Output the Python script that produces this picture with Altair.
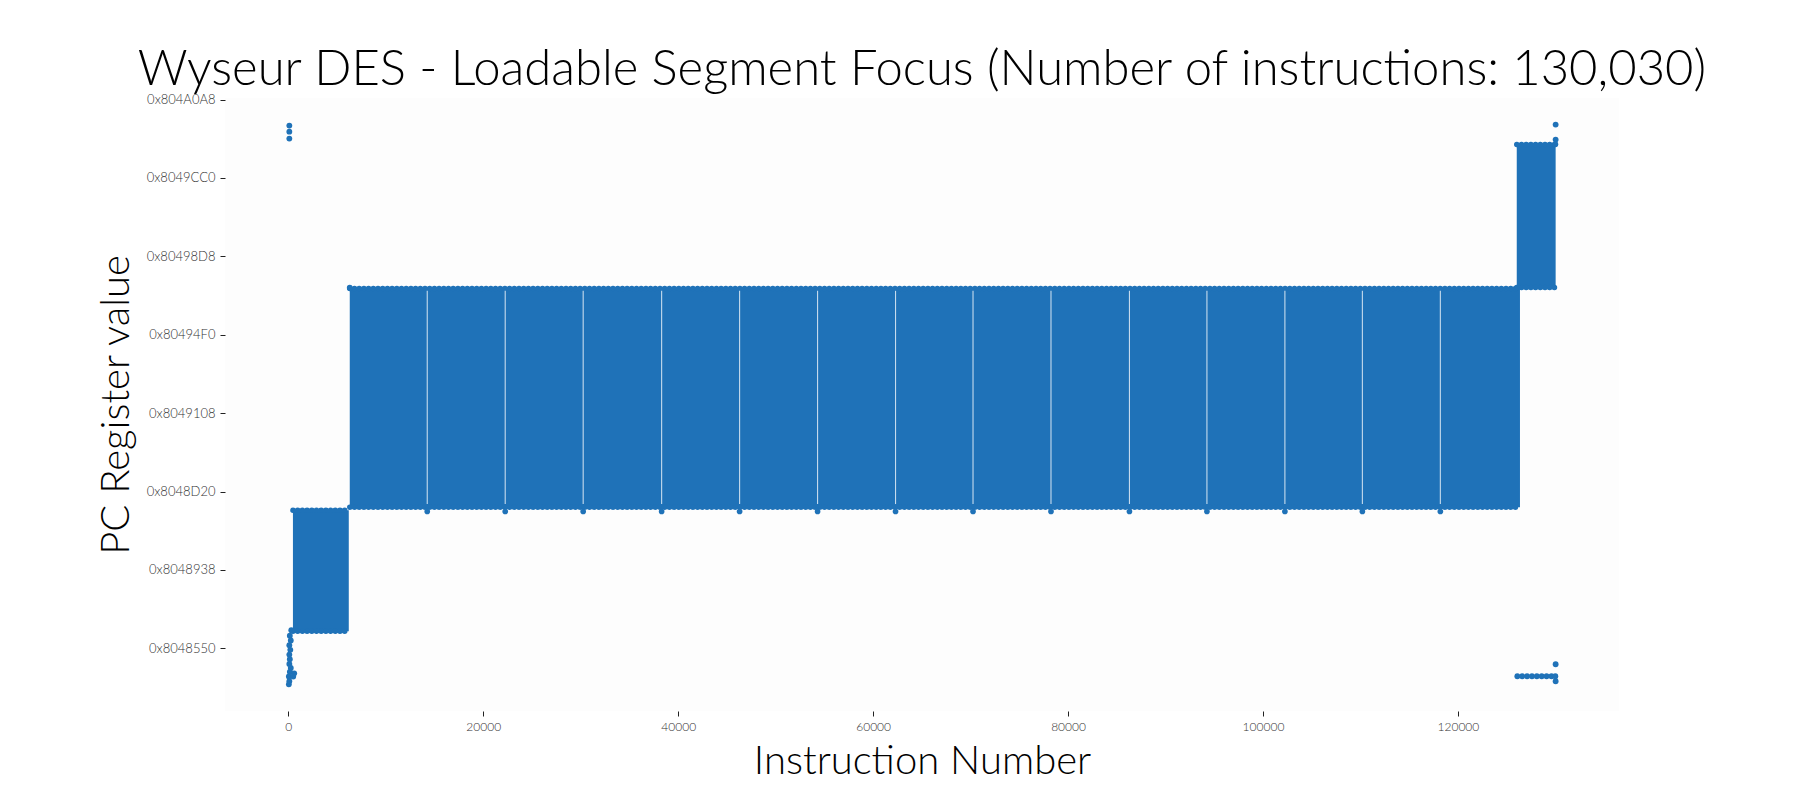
import altair as alt
import pandas as pd

title_text = "Wyseur DES - Loadable Segment Focus (Number of instructions: 130,030)"
x_title = "Instruction Number"
y_title = "PC Register value"

# dense execution blocks (instruction range x PC range)
block_start = [470, 6300, 126040]
block_end = [6200, 126370, 130030]
block_low = [134514217, 134515798, 134518603]
block_high = [134515760, 134518590, 134520426]

# loop-boundary gaps inside the main block
gap_x = [14250, 22250, 30250, 38300, 46300, 54300, 62300, 70250, 78250,
         86300, 94250, 102250, 110200, 118200]
gap_low = [134515840] * len(gap_x)
gap_high = [134518560] * len(gap_x)
gap_dip = [134515745] * len(gap_x)

# isolated points
pt_x = [100, 100, 100,
        300, 150, 250, 100, 200, 100, 150, 100, 250, 150, 50, 600, 500, 100, 50,
        6300,
        130030, 130030, 130000,
        126100, 126600, 127100, 127600, 128100, 128600, 129100, 129600, 130000,
        130030, 130030]
pt_y = [134520668, 134520591, 134520502,
        134514230, 134514160, 134514100, 134514040, 134513980, 134513920,
        134513860, 134513800, 134513750, 134513700, 134513640, 134513680,
        134513640, 134513580, 134513540,
        134518600,
        134520681, 134520490, 134520430,
        134513643, 134513643, 134513643, 134513643, 134513643, 134513643,
        134513643, 134513643, 134513643,
        134513796, 134513580]

x_ticks = [0, 20000, 40000, 60000, 80000, 100000, 120000]
y_ticks = [134514000, 134515000, 134516000, 134517000, 134518000,
           134519000, 134520000, 134521000]

blocks = pd.DataFrame({"x": block_start, "x2": block_end,
                       "y": block_low, "y2": block_high})
gaps = pd.DataFrame({"x": gap_x, "y": gap_low, "y2": gap_high, "dip": gap_dip})
points = pd.DataFrame({"x": pt_x, "y": pt_y})

BLUE = "#1f72b8"
FONT = "Lato"

xscale = alt.Scale(domain=[-6501, 136531], nice=False, zero=False)
yscale = alt.Scale(domain=[134513200, 134521020], nice=False, zero=False)

xaxis = alt.Axis(values=x_ticks, title=x_title, format="d", labelFont=FONT,
                 labelFontWeight=300, labelFontSize=12, labelColor="#333333", labelPadding=5,
                 tickColor="#222222", tickSize=5, tickWidth=1, domain=False, grid=False,
                 titleFont=FONT, titleFontWeight=300, titleFontSize=40,
                 titleColor="#000000", titleBaseline="alphabetic", titleY=62)
yaxis = alt.Axis(values=y_ticks, title=y_title, labelFont=FONT, labelFontWeight=300,
                 labelFontSize=13, labelColor="#333333", labelPadding=5,
                 labelExpr="'0x' + format(datum.value, 'X')",
                 tickColor="#222222", tickSize=5, tickWidth=1, domain=False, grid=False,
                 titleFont=FONT, titleFontWeight=300, titleFontSize=40,
                 titleColor="#000000", titleBaseline="alphabetic",
                 titleX=-97, titleY=306.5, titleAngle=270)

X = lambda f: alt.X(f, scale=xscale, axis=xaxis)
Y = lambda f: alt.Y(f, scale=yscale, axis=yaxis)

rects = alt.Chart(blocks).mark_rect(color=BLUE).encode(
    x=X("x:Q"), x2="x2:Q", y=Y("y:Q"), y2="y2:Q",
)

edge_style = dict(color=BLUE, strokeWidth=5.5, strokeCap="round", strokeDash=[0.1, 4.6])
top_edges = alt.Chart(blocks).mark_rule(**edge_style).encode(
    x=X("x:Q"), x2="x2:Q", y=Y("y2:Q"),
)
bottom_edges = alt.Chart(blocks).mark_rule(**edge_style).encode(
    x=X("x:Q"), x2="x2:Q", y=Y("y:Q"),
)

gap_rules = alt.Chart(gaps).mark_rule(color="#ffffff", strokeWidth=1.1, opacity=0.75).encode(
    x=X("x:Q"), y=Y("y:Q"), y2="y2:Q",
)
gap_dips = alt.Chart(gaps).mark_circle(color=BLUE, size=32, opacity=1).encode(
    x=X("x:Q"), y=Y("dip:Q"),
)

dots = alt.Chart(points).mark_circle(color=BLUE, size=34, opacity=1).encode(
    x=X("x:Q"), y=Y("y:Q"),
)

chart = alt.layer(rects, top_edges, bottom_edges, gap_rules, gap_dips, dots).properties(
    width=1394,
    height=613,
    padding={"left": 217, "top": 90, "right": 170, "bottom": 81},
    autosize=alt.AutoSizeParams(type="none"),
    title=alt.TitleParams(text=title_text, font=FONT, fontWeight=300, fontSize=49,
                          color="#000000", anchor="middle", frame="group",
                          baseline="alphabetic", offset=-40),
).configure(
    background="#ffffff",
    view=alt.ViewConfig(fill="#fdfdfd", stroke="transparent", strokeWidth=0),
)

chart.save("out.html", embed_options={"renderer": "svg", "actions": False})
